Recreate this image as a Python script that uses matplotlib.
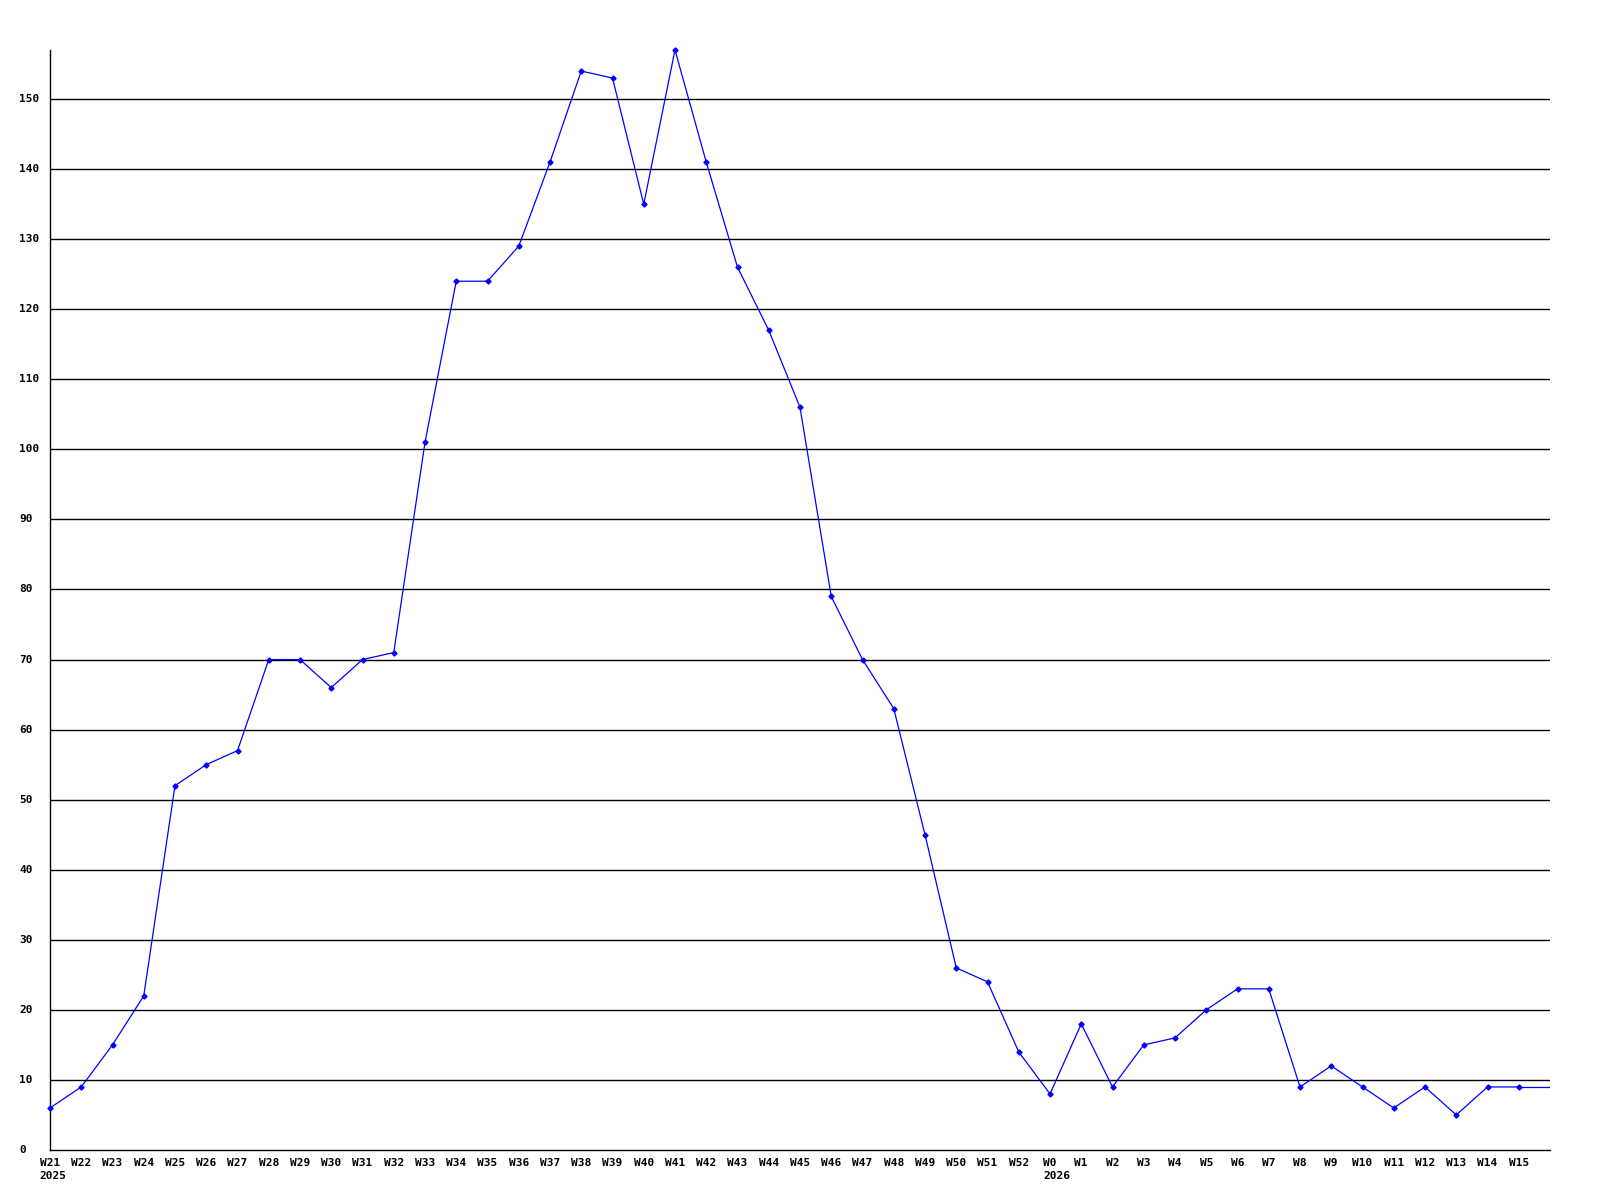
import matplotlib
matplotlib.use('Agg')
import matplotlib.pyplot as plt
import matplotlib.transforms as mtransforms

# weekly counts, W21 2025 .. W15 2026
weeks = ['W21', 'W22', 'W23', 'W24', 'W25', 'W26', 'W27', 'W28', 'W29', 'W30',
         'W31', 'W32', 'W33', 'W34', 'W35', 'W36', 'W37', 'W38', 'W39', 'W40',
         'W41', 'W42', 'W43', 'W44', 'W45', 'W46', 'W47', 'W48', 'W49', 'W50',
         'W51', 'W52', 'W0', 'W1', 'W2', 'W3', 'W4', 'W5', 'W6', 'W7',
         'W8', 'W9', 'W10', 'W11', 'W12', 'W13', 'W14', 'W15']
values = [6, 9, 15, 22, 52, 55, 57, 70, 70, 66,
          70, 71, 101, 124, 124, 129, 141, 154, 153, 135,
          157, 141, 126, 117, 106, 79, 70, 63, 45, 26,
          24, 14, 8, 18, 9, 15, 16, 20, 23, 23,
          9, 12, 9, 6, 9, 5, 9, 9]
years = {'W21': '2025', 'W0': '2026'}
y_ticks = list(range(0, 160, 10))

font = dict(family='DejaVu Sans Mono', weight='bold', size=8)

fig = plt.figure(figsize=(16, 12), dpi=100)
ax = fig.add_axes([50 / 1600, 50 / 1200, 1500 / 1600, 1100 / 1200])

x = list(range(len(values)))
ax.set_xlim(0, len(values))
ax.set_ylim(0, max(values))

# gridlines
for v in y_ticks[1:]:
    ax.axhline(v, color='black', lw=1.0, zorder=1)

ax.plot(x, values, color='#0000ff', lw=0.9, marker='D', markersize=2.6,
        zorder=3, clip_on=False)
# last value carried to the right edge
ax.plot([x[-1], len(values)], [values[-1], values[-1]], color='#0000ff',
        lw=0.9, zorder=3)

for s in ['top', 'right']:
    ax.spines[s].set_visible(False)
for s in ['left', 'bottom']:
    ax.spines[s].set_linewidth(1.0)
    ax.spines[s].set_color('black')

ax.set_yticks([])
trans = mtransforms.blended_transform_factory(fig.transFigure, ax.transData)
for v in y_ticks:
    ax.text(19 / 1600, v, str(v), transform=trans, ha='left', va='center', **font)

ax.set_xticks(x)
ax.set_xticklabels(weeks, **font)
ax.tick_params(axis='x', length=0, pad=6)

fig.canvas.draw()
renderer = fig.canvas.get_renderer()
for lbl in ax.get_xticklabels():
    t = lbl.get_text()
    if t in years:
        bb = lbl.get_window_extent(renderer)
        fx, fy = fig.transFigure.inverted().transform((bb.x0, bb.y0 - 3))
        fig.text(fx, fy, years[t], ha='left', va='top', **font)

fig.savefig('out.png', dpi=100, facecolor='white')
